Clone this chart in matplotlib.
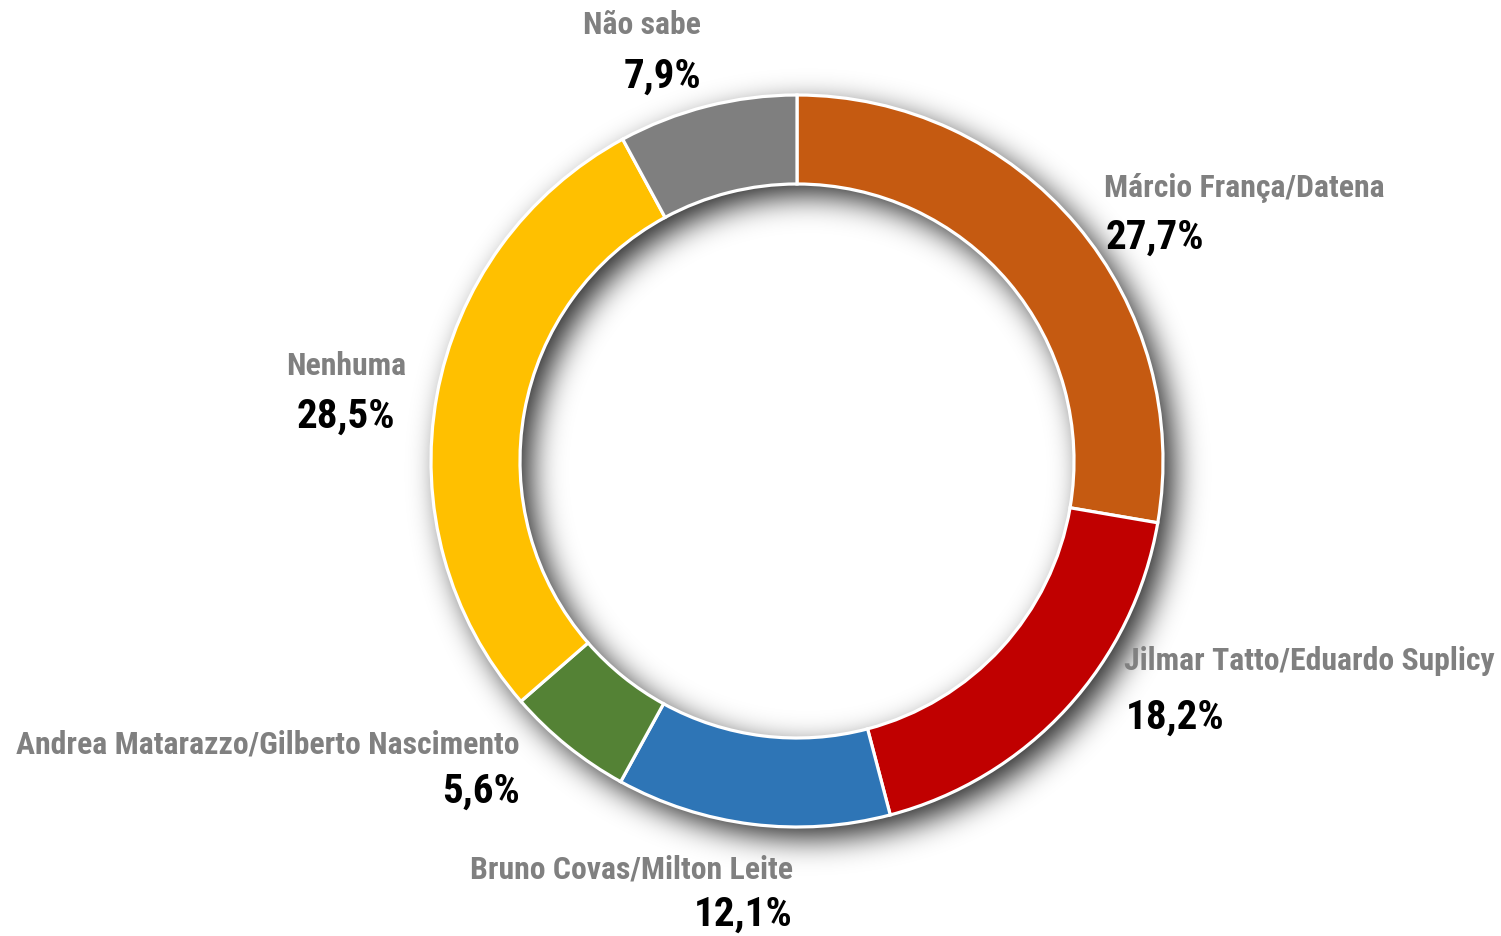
import os
import numpy as np
import matplotlib
matplotlib.use("Agg")
import matplotlib.pyplot as plt
from matplotlib import font_manager
from matplotlib.font_manager import FontProperties

labels = ["Márcio França/Datena", "Jilmar Tatto/Eduardo Suplicy", "Bruno Covas/Milton Leite",
          "Andrea Matarazzo/Gilberto Nascimento", "Nenhuma", "Não sabe"]
values = [27.7, 18.2, 12.1, 5.6, 28.5, 7.9]
colors = ["#C55A11", "#C00000", "#2E75B6", "#548235", "#FFC000", "#7F7F7F"]

W, H = 1501, 937
fig = plt.figure(figsize=(W / 100, H / 100), dpi=100)
ax = fig.add_axes([0, 0, 1, 1])

cx, cy = 797, H - 462
r_out, ring = 366, 89

# soft drop shadow of the ring, offset to the lower right
yy, xx = np.mgrid[0:H, 0:W]
dx, dy = 11, -11
d = np.hypot(xx + 0.5 - (cx + dx), yy + 0.5 - (cy + dy))
mask = ((d <= r_out) & (d >= r_out - ring)).astype(float)

def blur(a, sigma):
    k = np.arange(-int(3 * sigma), int(3 * sigma) + 1)
    g = np.exp(-k ** 2 / (2 * sigma ** 2))
    g /= g.sum()
    a = np.apply_along_axis(lambda v: np.convolve(v, g, mode="same"), 0, a)
    a = np.apply_along_axis(lambda v: np.convolve(v, g, mode="same"), 1, a)
    return a

sh = blur(mask, 15)
rgba = np.zeros((H, W, 4))
rgba[..., 3] = np.clip(sh * 0.85, 0, 1)
ax.imshow(rgba, extent=(0, W, 0, H), origin="lower", zorder=0, interpolation="bilinear")

ax.pie(values, colors=colors, startangle=90, counterclock=False, center=(cx, cy),
       radius=r_out, wedgeprops=dict(width=ring, edgecolor="white", linewidth=2.3),
       frame=True)
ax.set_xlim(0, W)
ax.set_ylim(0, H)
ax.set_aspect("equal")
ax.axis("off")

# pick a narrow bold face
prefs = ["NotoSans-CondensedBold", "RobotoCondensed-Bold", "LiberationSansNarrow-Bold",
         "DejaVuSansCondensed-Bold", "NotoSans-SemiCondensedBold"]
files = [f.fname for f in font_manager.fontManager.ttflist]
font_file = None
for p in prefs:
    hits = [f for f in files if os.path.basename(f).startswith(p + ".")]
    if hits:
        font_file = hits[0]
        break
if font_file:
    fp_name = FontProperties(fname=font_file, size=22.9)
    fp_val = FontProperties(fname=font_file, size=29.5)
else:
    fp_name = FontProperties(family="Liberation Sans", weight="bold", size=19)
    fp_val = FontProperties(family="Liberation Sans", weight="bold", size=24)

# label anchor (x, y of name, y of value, alignment)
pos = [
    (1104, 188, 238, "left"),
    (1124, 661, 718, "left"),
    (793, 870, 915, "right"),
    (520, 745, 792, "right"),
    (346, 366, 417, "center"),
    (701, 25, 77, "right"),
]
for lab, v, (x, yn, yv, ha) in zip(labels, values, pos):
    ax.text(x, H - yn, lab, ha=ha, va="center", color="#808080", fontproperties=fp_name)
    xv = x + 2 if ha == "left" else x
    ax.text(xv, H - yv, f"{v:.1f}%".replace(".", ","), ha=ha, va="center",
            color="black", fontproperties=fp_val)

fig.savefig("out.png", dpi=100)
